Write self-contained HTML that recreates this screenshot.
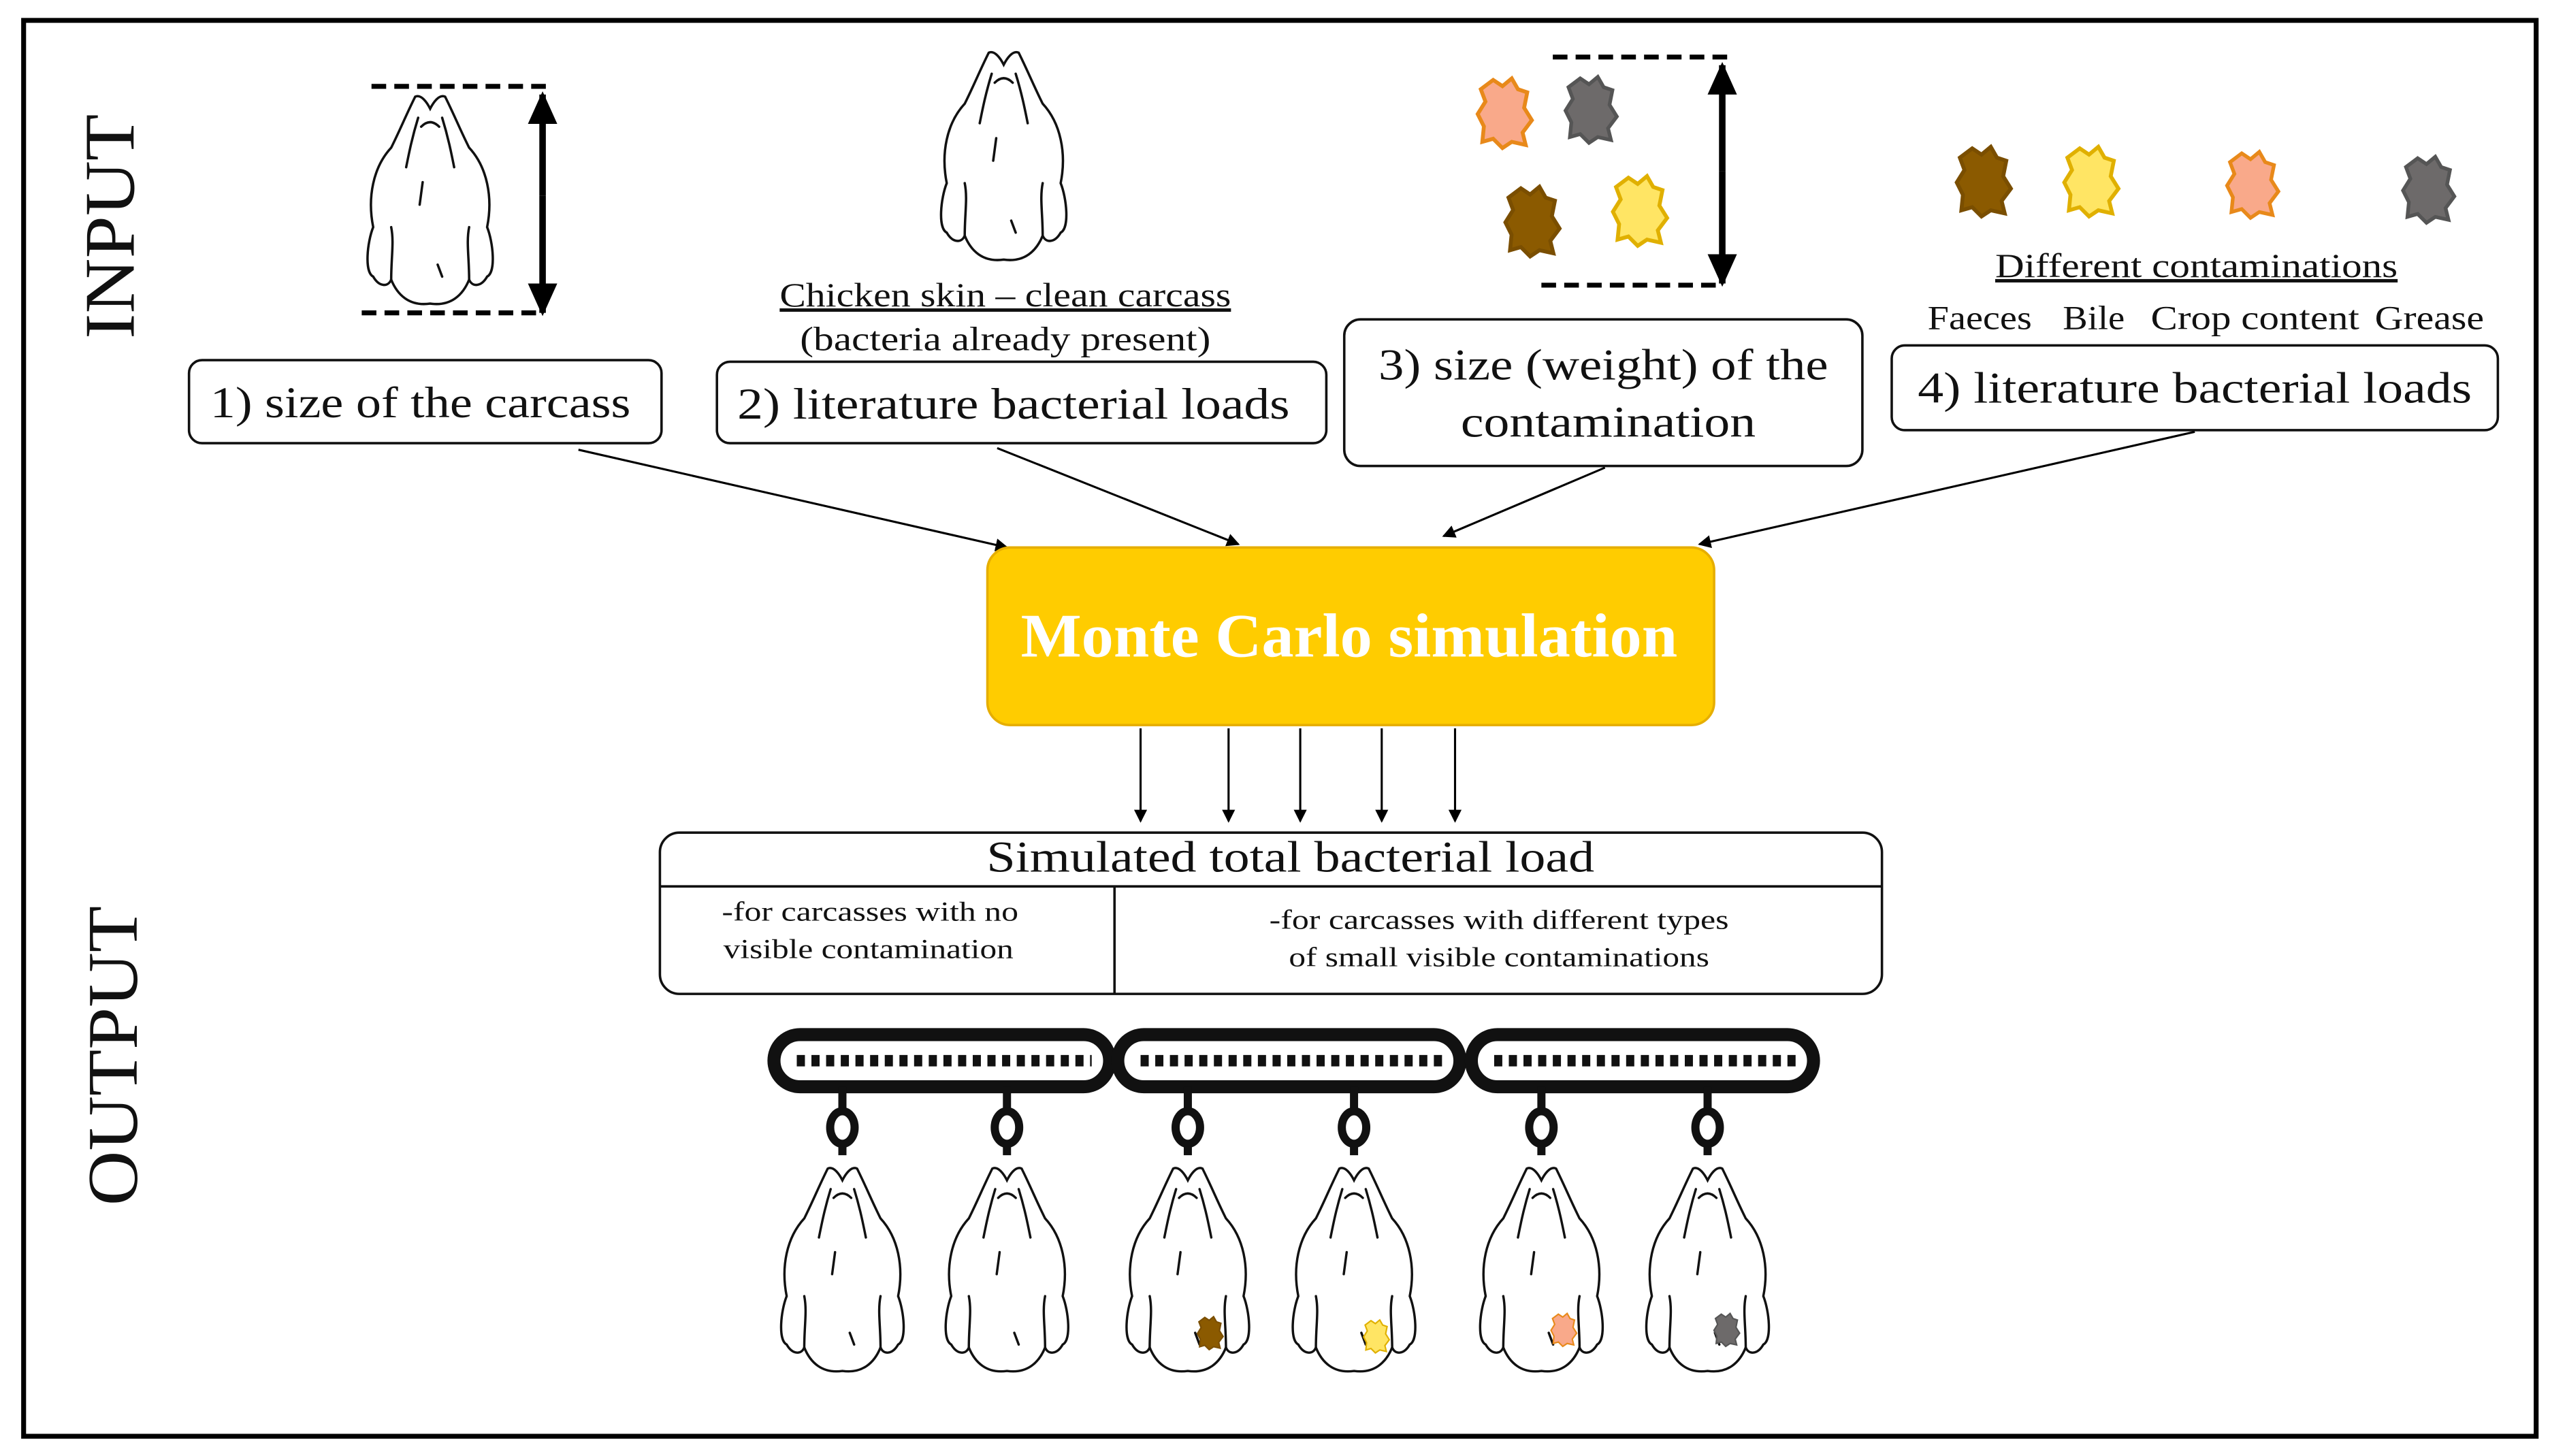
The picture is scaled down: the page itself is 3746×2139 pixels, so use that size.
<!DOCTYPE html>
<html><head><meta charset="utf-8"><style>
html,body{margin:0;padding:0;background:#fff;}
svg{display:block;}
text{font-family:"Liberation Serif",serif;fill:#111;}
</style></head><body>
<svg width="3746" height="2139" viewBox="0 0 1565 893.6" xmlns="http://www.w3.org/2000/svg">
<defs>
<marker id="ah" markerWidth="8" markerHeight="8" refX="7" refY="4" orient="auto" markerUnits="userSpaceOnUse"><path d="M0,0 L8,4 L0,8 Z" fill="#000"/></marker>
<marker id="bh" markerWidth="22" markerHeight="22" refX="18" refY="11" orient="auto" markerUnits="userSpaceOnUse"><path d="M0,2 L20,11 L0,20 Z" fill="#000"/></marker>
<symbol id="ch" viewBox="0 0 100 150">
<g fill="#fff" stroke="#111" stroke-width="1.6" stroke-linecap="round">
<path d="M40,8 C34,20 30,30 24,42 C12,55 8,75 12,95 C8,105 6,125 12,128 C16,135 22,135 24,130 C28,140 36,148 50,146 C64,148 72,140 76,130 C78,135 84,135 88,128 C94,125 92,105 88,95 C92,75 88,55 76,42 C70,30 66,20 60,8 C56,6 52,12 50,16 C48,12 44,6 40,8 Z"/>
<path d="M42,22 C38,35 36,45 34,55 M58,22 C62,35 64,45 66,55 M44,28 C48,24 52,24 56,28 M24,95 C26,105 24,115 24,130 M76,95 C74,105 76,115 76,130 M45,65 L43,80 M55,120 L58,128" fill="none"/>
</g>
</symbol>
<symbol id="blob" viewBox="0 0 40 50">
<path d="M12,4 L18,8 L24,3 L28,10 L34,12 L32,22 L37,30 L31,38 L33,46 L24,44 L18,48 L12,42 L5,44 L6,34 L2,26 L7,18 L4,10 Z"/>
</symbol>
</defs>
<rect x="0" y="0" width="1565" height="893.6" fill="#fff"/>
<rect x="14.5" y="12.5" width="1542" height="869" fill="none" stroke="#000" stroke-width="3"/>

<text transform="translate(82,139) rotate(-90)" text-anchor="middle" font-size="44" textLength="138" lengthAdjust="spacingAndGlyphs">INPUT</text>
<text transform="translate(84,648) rotate(-90)" text-anchor="middle" font-size="44" textLength="184" lengthAdjust="spacingAndGlyphs">OUTPUT</text>

<use href="#ch" x="218" y="52" width="92" height="138"/>
<use href="#ch" x="570" y="25" width="92" height="138"/>
<line x1="228" y1="53" x2="336" y2="53" stroke="#000" stroke-width="3" stroke-dasharray="9,5"/>
<line x1="222" y1="192" x2="330" y2="192" stroke="#000" stroke-width="3" stroke-dasharray="9,5"/>
<line x1="333" y1="120" x2="333" y2="58" stroke="#000" stroke-width="4" marker-end="url(#bh)"/>
<line x1="333" y1="120" x2="333" y2="192" stroke="#000" stroke-width="4" marker-end="url(#bh)"/>
<line x1="953" y1="35" x2="1060" y2="35" stroke="#000" stroke-width="3" stroke-dasharray="9,5"/>
<line x1="946" y1="175" x2="1054" y2="175" stroke="#000" stroke-width="3" stroke-dasharray="9,5"/>
<line x1="1057" y1="105" x2="1057" y2="40" stroke="#000" stroke-width="4" marker-end="url(#bh)"/>
<line x1="1057" y1="105" x2="1057" y2="174" stroke="#000" stroke-width="4" marker-end="url(#bh)"/>

<g stroke-width="2.5">
<use href="#blob" x="905" y="44" width="38" height="50" fill="#F9A98A" stroke="#E8891A"/>
<use href="#blob" x="959" y="42" width="36" height="50" fill="#6d6a6a" stroke="#555"/>
<use href="#blob" x="922" y="108" width="38" height="55" fill="#8B5A00" stroke="#7a4e00"/>
<use href="#blob" x="988" y="102" width="38" height="54" fill="#FFE564" stroke="#E0B000"/>
<use href="#blob" x="1199" y="84" width="38" height="54" fill="#8B5A00" stroke="#7a4e00"/>
<use href="#blob" x="1265" y="84" width="38" height="54" fill="#FFE564" stroke="#E0B000"/>
<use href="#blob" x="1365" y="86" width="36" height="54" fill="#F9A98A" stroke="#E8891A"/>
<use href="#blob" x="1473" y="90" width="36" height="52" fill="#6d6a6a" stroke="#555"/>
</g>

<text x="617" y="188" text-anchor="middle" font-size="21" text-decoration="underline" textLength="277" lengthAdjust="spacingAndGlyphs">Chicken skin – clean carcass</text>
<text x="617" y="215" text-anchor="middle" font-size="21" textLength="252" lengthAdjust="spacingAndGlyphs">(bacteria already present)</text>
<text x="1348" y="170" text-anchor="middle" font-size="21" text-decoration="underline" textLength="247" lengthAdjust="spacingAndGlyphs">Different contaminations</text>
<text x="1215" y="202" text-anchor="middle" font-size="21" textLength="64" lengthAdjust="spacingAndGlyphs">Faeces</text>
<text x="1285" y="202" text-anchor="middle" font-size="21" textLength="38" lengthAdjust="spacingAndGlyphs">Bile</text>
<text x="1384" y="202" text-anchor="middle" font-size="21" textLength="128" lengthAdjust="spacingAndGlyphs">Crop content</text>
<text x="1491" y="202" text-anchor="middle" font-size="21" textLength="67" lengthAdjust="spacingAndGlyphs">Grease</text>

<g fill="#fff" stroke="#111" stroke-width="1.5">
<rect x="116" y="221" width="290" height="51" rx="8"/>
<rect x="440" y="222" width="374" height="50" rx="8"/>
<rect x="825" y="196" width="318" height="90" rx="10"/>
<rect x="1161" y="212" width="372" height="52" rx="8"/>
</g>
<text x="258" y="256" text-anchor="middle" font-size="27" textLength="258" lengthAdjust="spacingAndGlyphs">1) size of the carcass</text>
<text x="622" y="257" text-anchor="middle" font-size="27" textLength="339" lengthAdjust="spacingAndGlyphs">2) literature bacterial loads</text>
<text x="984" y="233" text-anchor="middle" font-size="27" textLength="276" lengthAdjust="spacingAndGlyphs">3) size (weight) of the</text>
<text x="987" y="268" text-anchor="middle" font-size="27" textLength="181" lengthAdjust="spacingAndGlyphs">contamination</text>
<text x="1347" y="247" text-anchor="middle" font-size="27" textLength="340" lengthAdjust="spacingAndGlyphs">4) literature bacterial loads</text>

<g stroke="#000" stroke-width="1.3" marker-end="url(#ah)">
<line x1="355" y1="276" x2="618" y2="336"/>
<line x1="612" y1="275" x2="760" y2="334"/>
<line x1="985" y1="287" x2="886" y2="329"/>
<line x1="1347" y1="265" x2="1043" y2="334"/>
</g>

<rect x="606" y="336" width="446" height="109" rx="14" fill="#FFCC00" stroke="#E6AE00" stroke-width="1.5"/>
<text x="828" y="403" text-anchor="middle" font-size="38" font-weight="bold" style="fill:#fff" textLength="403" lengthAdjust="spacingAndGlyphs">Monte Carlo simulation</text>

<g stroke="#000" stroke-width="1.3" marker-end="url(#ah)">
<line x1="700" y1="447" x2="700" y2="504"/>
<line x1="754" y1="447" x2="754" y2="504"/>
<line x1="798" y1="447" x2="798" y2="504"/>
<line x1="848" y1="447" x2="848" y2="504"/>
<line x1="893" y1="447" x2="893" y2="504"/>
</g>

<rect x="405" y="511" width="750" height="99" rx="12" fill="#fff" stroke="#111" stroke-width="1.5"/>
<line x1="405" y1="544" x2="1155" y2="544" stroke="#111" stroke-width="1.5"/>
<line x1="684" y1="544" x2="684" y2="610" stroke="#111" stroke-width="1.5"/>
<text x="792" y="535" text-anchor="middle" font-size="27" textLength="373" lengthAdjust="spacingAndGlyphs">Simulated total bacterial load</text>
<text x="534" y="565" text-anchor="middle" font-size="17" textLength="182" lengthAdjust="spacingAndGlyphs">-for carcasses with no</text>
<text x="533" y="588" text-anchor="middle" font-size="17" textLength="178" lengthAdjust="spacingAndGlyphs">visible contamination</text>
<text x="920" y="570" text-anchor="middle" font-size="17" textLength="282" lengthAdjust="spacingAndGlyphs">-for carcasses with different types</text>
<text x="920" y="593" text-anchor="middle" font-size="17" textLength="258" lengthAdjust="spacingAndGlyphs">of small visible contaminations</text>

<g fill="none" stroke="#111" stroke-width="8">
<rect x="475" y="635" width="206" height="32" rx="16"/>
<rect x="686" y="635" width="210" height="32" rx="16"/>
<rect x="903" y="635" width="210" height="32" rx="16"/>
</g>
<g stroke="#111" stroke-width="7" stroke-dasharray="5,4">
<line x1="489" y1="651" x2="670" y2="651"/>
<line x1="700" y1="651" x2="885" y2="651"/>
<line x1="917" y1="651" x2="1102" y2="651"/>
</g>
<g stroke="#111">
<g id="hk">
<line x1="517" y1="667" x2="517" y2="709" stroke-width="5"/>
<ellipse cx="517" cy="692" rx="7.5" ry="10" fill="#fff" stroke-width="5"/>
</g>
<use href="#hk" x="101"/><use href="#hk" x="212"/><use href="#hk" x="314"/><use href="#hk" x="429"/><use href="#hk" x="531"/>
</g>
<use href="#ch" x="472" y="710" width="90" height="135"/>
<use href="#ch" x="573" y="710" width="90" height="135"/>
<use href="#ch" x="684" y="710" width="90" height="135"/>
<use href="#ch" x="786" y="710" width="90" height="135"/>
<use href="#ch" x="901" y="710" width="90" height="135"/>
<use href="#ch" x="1003" y="710" width="90" height="135"/>
<g stroke-width="2">
<use href="#blob" x="734" y="806" width="18" height="24" fill="#8B5A00" stroke="#7a4e00"/>
<use href="#blob" x="836" y="808" width="18" height="24" fill="#FFE564" stroke="#E0B000"/>
<use href="#blob" x="951" y="804" width="18" height="24" fill="#F9A98A" stroke="#E8891A"/>
<use href="#blob" x="1051" y="804" width="18" height="24" fill="#6d6a6a" stroke="#555"/>
</g>
</svg>
</body></html>
